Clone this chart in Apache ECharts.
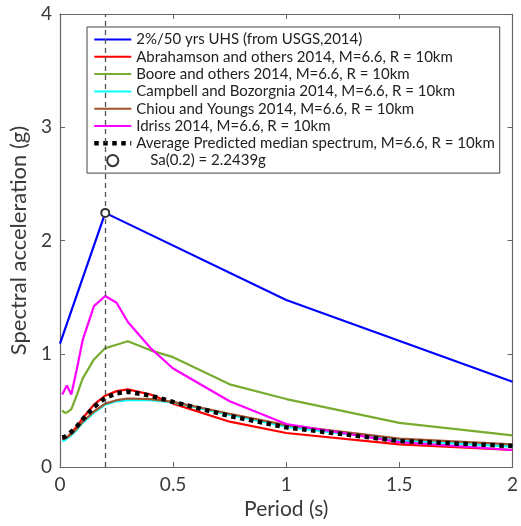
<!DOCTYPE html>
<html>
<head>
<meta charset="utf-8">
<script src="https://cdn.jsdelivr.net/npm/echarts@6/dist/echarts.min.js"></script>
<style>
  html, body { margin: 0; padding: 0; background: #fff; }
  #chart { width: 521px; height: 526px; }
</style>
</head>
<body>
<div id="chart"></div>
<script>
// Uniform hazard spectrum (2% in 50 years)
const uhsPeriods = [0, 0.2, 1, 2];
const uhsValues = [1.09, 2.2439, 1.475, 0.753];

// Spectral periods used by the ground-motion models (s)
const periods = [0.01, 0.02, 0.03, 0.05, 0.075, 0.1, 0.15, 0.2, 0.25, 0.3, 0.4, 0.5, 0.75, 1, 1.5, 2];

const abrahamson = [0.25, 0.25, 0.26, 0.30, 0.36, 0.43, 0.55, 0.63, 0.67, 0.685, 0.64, 0.56, 0.40, 0.30, 0.20, 0.15];
const boore      = [0.50, 0.48, 0.48, 0.51, 0.64, 0.78, 0.95, 1.05, 1.08, 1.11, 1.03, 0.97, 0.73, 0.60, 0.39, 0.28];
const campbell   = [0.23, 0.235, 0.25, 0.28, 0.33, 0.39, 0.48, 0.55, 0.58, 0.59, 0.59, 0.57, 0.46, 0.355, 0.235, 0.18];
const chiou      = [0.25, 0.25, 0.26, 0.29, 0.34, 0.40, 0.49, 0.56, 0.59, 0.605, 0.60, 0.575, 0.47, 0.37, 0.25, 0.20];
const idriss     = [0.64, 0.68, 0.72, 0.64, 0.87, 1.12, 1.42, 1.51, 1.45, 1.28, 1.05, 0.87, 0.58, 0.38, 0.22, 0.15];
const average    = [0.26, 0.265, 0.28, 0.31, 0.36, 0.42, 0.53, 0.61, 0.65, 0.665, 0.63, 0.575, 0.45, 0.35, 0.23, 0.185];

// Design point
const samplePeriod = 0.2;
const sampleValue = 2.2439;

const xTicks = [0, 0.5, 1, 1.5, 2];
const yTicks = [0, 1, 2, 3, 4];

const names = [
  '2%/50 yrs UHS (from USGS,2014)',
  'Abrahamson and others 2014, M=6.6, R = 10km',
  'Boore and others 2014, M=6.6, R = 10km',
  'Campbell and Bozorgnia 2014, M=6.6, R = 10km',
  'Chiou and Youngs 2014, M=6.6, R = 10km',
  'Idriss 2014, M=6.6, R = 10km',
  'Average Predicted median spectrum, M=6.6, R = 10km',
  'Sa(0.2) = 2.2439g'
];

const pairs = (xs, ys) => xs.map((x, i) => [x, ys[i]]);

const FONT = 'Lato';
const axisColor = '#666';
const labelColor = '#3a3a3a';

function lineSeries(name, xs, ys, color, extra) {
  return Object.assign({
    name: name,
    type: 'line',
    data: pairs(xs, ys),
    showSymbol: false,
    symbol: 'none',
    smooth: false,
    lineStyle: { color: color, width: 2.2 },
    itemStyle: { color: color },
    animation: false,
    z: 3
  }, extra || {});
}

function legendEntry(n, i) {
  if (i === 7) return { name: n, textStyle: { padding: [0, 0, 0, 14] } };
  if (i === 6) return { name: n, itemStyle: { opacity: 0 }, lineStyle: { width: 4.5, type: [4.5, 4.5], cap: 'butt' } };
  return { name: n, itemStyle: { opacity: 0 } };
}

const chart = echarts.init(document.getElementById('chart'), null, { renderer: 'canvas' });

chart.setOption({
  animation: false,
  backgroundColor: '#fff',
  grid: { left: 60, top: 14, right: 8, bottom: 59, containLabel: false },
  legend: {
    orient: 'vertical',
    left: 87,
    top: 27,
    padding: [5, 5, 5, 5],
    itemGap: 2.3,
    itemWidth: 37,
    itemHeight: 14,
    backgroundColor: '#fff',
    borderColor: '#444',
    borderWidth: 1,
    textStyle: { fontFamily: FONT, fontSize: 15, color: '#222' },
    // line entries show only their line sample; the design point shows its marker
    data: names.map(legendEntry)
  },
  xAxis: [{
    type: 'value', min: 0, max: 2, interval: 0.5,
    position: 'bottom',
    name: 'Period (s)', nameLocation: 'middle', nameGap: 29,
    nameTextStyle: { fontFamily: FONT, fontSize: 21, color: labelColor },
    axisLine: { show: true, onZero: false, lineStyle: { color: axisColor, width: 1.2 } },
    axisTick: { show: true, inside: true, length: 5, lineStyle: { color: axisColor } },
    axisLabel: { fontFamily: FONT, fontSize: 19, color: labelColor, margin: 8,
      formatter: v => xTicks.includes(v) ? String(v) : '' },
    splitLine: { show: false }
  }, {
    type: 'value', min: 0, max: 2, interval: 0.5,
    position: 'top',
    axisLine: { show: true, onZero: false, lineStyle: { color: axisColor, width: 1.2 } },
    axisTick: { show: true, inside: true, length: 5, lineStyle: { color: axisColor } },
    axisLabel: { show: false },
    splitLine: { show: false }
  }],
  yAxis: [{
    type: 'value', min: 0, max: 4, interval: 1,
    position: 'left',
    name: 'Spectral acceleration (g)', nameLocation: 'middle', nameGap: 27,
    nameTextStyle: { fontFamily: FONT, fontSize: 22, color: labelColor },
    axisLine: { show: true, onZero: false, lineStyle: { color: axisColor, width: 1.2 } },
    axisTick: { show: true, inside: true, length: 5, lineStyle: { color: axisColor } },
    axisLabel: { fontFamily: FONT, fontSize: 19, color: labelColor, margin: 8,
      formatter: v => yTicks.includes(v) ? String(v) : '' },
    splitLine: { show: false }
  }, {
    type: 'value', min: 0, max: 4, interval: 1,
    position: 'right',
    axisLine: { show: true, onZero: false, lineStyle: { color: axisColor, width: 1.2 } },
    axisTick: { show: true, inside: true, length: 5, lineStyle: { color: axisColor } },
    axisLabel: { show: false },
    splitLine: { show: false }
  }],
  series: [
    lineSeries(names[0], uhsPeriods, uhsValues, '#0000ff'),
    lineSeries(names[1], periods, abrahamson, '#ff0000'),
    lineSeries(names[2], periods, boore, '#77ac30'),
    lineSeries(names[3], periods, campbell, '#00ffff'),
    lineSeries(names[4], periods, chiou, '#a0522d'),
    lineSeries(names[5], periods, idriss, '#ff00ff'),
    lineSeries(names[6], periods, average, '#000000', {
      lineStyle: { color: '#000', width: 4.5, type: [4.5, 4.5], cap: 'butt' },
      z: 4
    }),
    // design point with the dashed period marker
    lineSeries(names[7], [samplePeriod], [sampleValue], '#333', {
      showSymbol: true,
      symbol: 'emptyCircle',
      symbolSize: 8,
      lineStyle: { width: 0, opacity: 0 },
      itemStyle: { color: '#333', borderWidth: 1.2 },
      z: 5,
      markLine: {
        silent: true,
        symbol: 'none',
        label: { show: false },
        lineStyle: { color: '#555', width: 1.3, type: [5, 4] },
        data: [[{ coord: [samplePeriod, 0] }, { coord: [samplePeriod, 4] }]]
      }
    })
  ]
});
</script>
</body>
</html>
